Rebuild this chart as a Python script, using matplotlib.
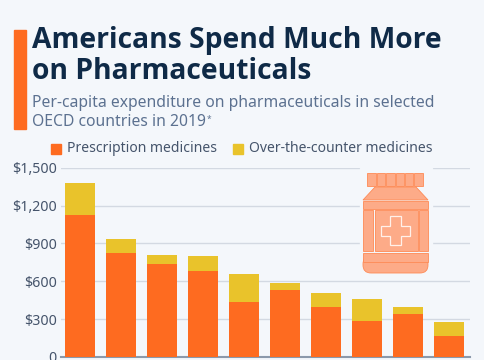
import matplotlib
matplotlib.use("Agg")
import matplotlib.pyplot as plt
from matplotlib.patches import Rectangle, FancyBboxPatch, Polygon

# no country labels visible, the picture is cut off below the axis
bar_pos = [0, 1, 2, 3, 4, 5, 6, 7, 8, 9]
prescription = [1127, 825, 738, 685, 434, 534, 399, 286, 341, 164]
total = [1378, 936, 812, 804, 661, 590, 505, 460, 394, 280]
otc = [t - p for t, p in zip(total, prescription)]
y_ticks = [0, 300, 600, 900, 1200, 1500]
y_labels = ["0", "$300", "$600", "$900", "$1,200", "$1,500"]

ORANGE = "#fe6b20"
YELLOW = "#e9c32b"
BG = "#f4f7fb"
ICON = "#fdab88"
ICON_EDGE = "#fe8a55"

W, H = 485, 360
plt.rcParams["font.family"] = "Noto Sans"
fig = plt.figure(figsize=(W / 100, H / 100), dpi=100, facecolor=BG)

# chart axes, placed in pixels
x0, x1, ytop, ybot = 61.5, 470, 167.7, 357
ax = fig.add_axes([x0 / W, 1 - ybot / H, (x1 - x0) / W, (ybot - ytop) / H], facecolor="none")
ax.bar(bar_pos, prescription, width=0.725, color=ORANGE, zorder=3)
ax.bar(bar_pos, otc, bottom=prescription, width=0.725, color=YELLOW, zorder=3)
ax.set_xlim(-0.455, 9.509)
ax.set_ylim(0, 1500)
ax.set_yticks(y_ticks)
ax.set_yticklabels(y_labels, fontsize=10.2, color="#45546b")
ax.set_xticks([])
ax.tick_params(axis="y", length=0, pad=3.5)
ax.grid(axis="y", color="#d3d9e2", lw=1, zorder=1)
for s in ["top", "right", "left"]:
    ax.spines[s].set_visible(False)
ax.spines["bottom"].set_color("#8b99ab")
ax.spines["bottom"].set_linewidth(1.5)
for lab in ax.get_yticklabels():
    lab.set_clip_on(False)

# overlay in pixel coordinates for header, legend and icon
ov = fig.add_axes([0, 0, 1, 1], facecolor="none")
ov.set_xlim(0, W)
ov.set_ylim(H, 0)
ov.axis("off")

ov.add_patch(Rectangle((14.5, 29.5), 11.5, 99, color=ORANGE))
ov.text(32.5, 40.5, "Americans Spend Much More", fontsize=20.3, fontweight="bold", family="Open Sans", color="#0f2a47", va="center")
ov.text(32.5, 71.5, "on Pharmaceuticals", fontsize=20.3, fontweight="bold", family="Open Sans", color="#0f2a47", va="center")
ov.text(32.5, 103, "Per-capita expenditure on pharmaceuticals in selected", fontsize=11.3, color="#5c7190", va="center")
ov.text(32.5, 122.5, "OECD countries in 2019", fontsize=11.3, color="#5c7190", va="center")
ov.text(206.5, 119, "*", fontsize=6, color="#5c7190", va="center")

ov.add_patch(Rectangle((51, 143.5), 10, 10, color=ORANGE))
ov.text(67, 148.5, "Prescription medicines", fontsize=10.05, color="#45546b", va="center")
ov.add_patch(Rectangle((233, 143.5), 10, 10, color=YELLOW))
ov.text(249, 148.5, "Over-the-counter medicines", fontsize=10.05, color="#45546b", va="center")

# pill bottle icon, with halo that cuts the gridlines
ov.add_patch(Rectangle((360, 168), 72, 108, color=BG))
for i in range(6):
    ov.add_patch(Rectangle((367.5 + i * 9.35, 172.5), 8.4, 13.5, fc=ICON, ec=ICON_EDGE, lw=0.6))
ov.add_patch(Polygon([(375, 187), (416, 187), (428, 200), (363, 200)], fc=ICON, ec=ICON_EDGE, lw=0.6))
ov.add_patch(Rectangle((363, 200.5), 65, 8, fc=ICON, ec=ICON_EDGE, lw=0.6))
ov.add_patch(Rectangle((363, 210), 10, 41, fc=ICON, ec=ICON_EDGE, lw=0.6))
ov.add_patch(Rectangle((375, 210), 43, 41, fc=ICON, ec=ICON_EDGE, lw=0.6))
ov.add_patch(Rectangle((419.5, 210), 8.5, 41, fc=ICON, ec=ICON_EDGE, lw=0.6))
ov.add_patch(Polygon([(390, 216), (401.5, 216), (401.5, 225.5), (410.5, 225.5), (410.5, 236), (401.5, 236),
                      (401.5, 245), (390, 245), (390, 236), (381, 236), (381, 225.5), (390, 225.5)],
                     fc=ICON, ec="#fff1ea", lw=0.9))
ov.add_patch(FancyBboxPatch((363, 256), 65, 17, boxstyle="round,pad=0,rounding_size=8", fc=ICON, ec=ICON_EDGE, lw=0.6))
ov.add_patch(Rectangle((363, 253), 65, 8.5, fc=ICON, ec=ICON_EDGE, lw=0.6))

fig.savefig("out.png", dpi=100, facecolor=BG)
